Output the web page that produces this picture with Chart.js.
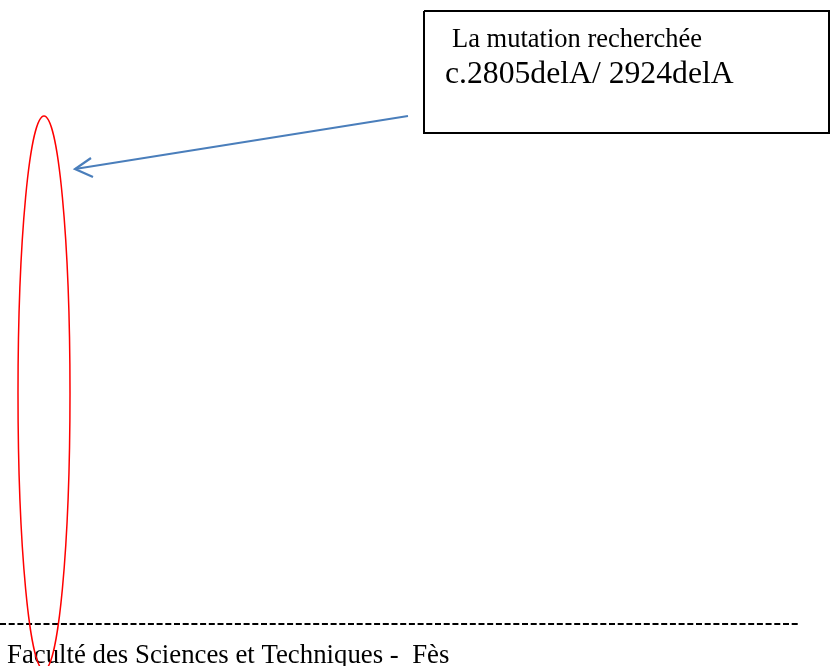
<!DOCTYPE html>
<html lang="fr">
<head>
    <meta charset="UTF-8">
    <title>La mutation recherchée</title>
    <style>
        html, body { margin: 0; padding: 0; background: #fff; }
        #wrap { width: 830px; height: 666px; }
    </style>
</head>
<body>
    <div id="wrap"><canvas id="annot" width="830" height="666"></canvas></div>

    <script src="https://cdn.jsdelivr.net/npm/chart.js"></script>
    <script>
// page coordinates (x to the right, y downwards)
const boxOutline = [[424, 11], [829, 11], [829, 133], [424, 133], [424, 11]];
const arrowShaft = [[408, 116], [75, 169]];
const arrowHead = [[91, 158], [75, 169], [93, 177]];
const ruleLine = [[0, 624], [800, 624]];
const ellipseCenter = [44, 393];
const ellipseRadii = [26, 277];
const textLines = ['La mutation recherchée', 'c.2805delA/ 2924delA', 'Faculté des Sciences et Techniques -  Fès'];
const textAnchors = [[452, 47], [445, 83], [7, 663]];

const toPts = arr => arr.map(p => ({ x: p[0], y: p[1] }));

// text + red ellipse, placed through the chart scales
const overlay = {
    id: 'overlay',
    afterDatasetsDraw(chart) {
        const ctx = chart.ctx;
        const xs = chart.scales.x, ys = chart.scales.y;
        const fonts = ['26.5px "Liberation Serif"', '31.7px "Liberation Serif"', '26.8px "Liberation Serif"'];
        ctx.save();
        ctx.fillStyle = '#000';
        ctx.textBaseline = 'alphabetic';
        textLines.forEach((t, i) => {
            ctx.font = fonts[i];
            ctx.fillText(t, xs.getPixelForValue(textAnchors[i][0]), ys.getPixelForValue(textAnchors[i][1]));
        });

        const cx = xs.getPixelForValue(ellipseCenter[0]);
        const cy = ys.getPixelForValue(ellipseCenter[1]);
        const rx = Math.abs(xs.getPixelForValue(ellipseCenter[0] + ellipseRadii[0]) - cx);
        const ry = Math.abs(ys.getPixelForValue(ellipseCenter[1] + ellipseRadii[1]) - cy);
        ctx.beginPath();
        ctx.ellipse(cx, cy, rx, ry, 0, 0, Math.PI * 2);
        ctx.strokeStyle = '#ff0000';
        ctx.lineWidth = 1.5;
        ctx.stroke();
        ctx.restore();
    }
};

const lineSet = (data, color, width, extra) => Object.assign({
    data: toPts(data),
    showLine: true,
    borderColor: color,
    borderWidth: width,
    pointRadius: 0,
    fill: false,
    tension: 0,
    clip: false
}, extra || {});

new Chart(document.getElementById('annot'), {
    type: 'scatter',
    data: {
        datasets: [
            lineSet(boxOutline, '#000', 2, { borderJoinStyle: 'miter' }),
            lineSet(arrowShaft, '#4a7ebb', 2),
            lineSet(arrowHead, '#4a7ebb', 2.2),
            lineSet(ruleLine, '#000', 2, { borderDash: [6, 2.7] })
        ]
    },
    options: {
        responsive: false,
        animation: false,
        layout: { padding: 0 },
        plugins: { legend: { display: false }, tooltip: { enabled: false } },
        scales: {
            x: { type: 'linear', min: 0, max: 830, display: false },
            y: { type: 'linear', min: 0, max: 666, reverse: true, display: false }
        }
    },
    plugins: [overlay]
});
    </script>
</body>
</html>
